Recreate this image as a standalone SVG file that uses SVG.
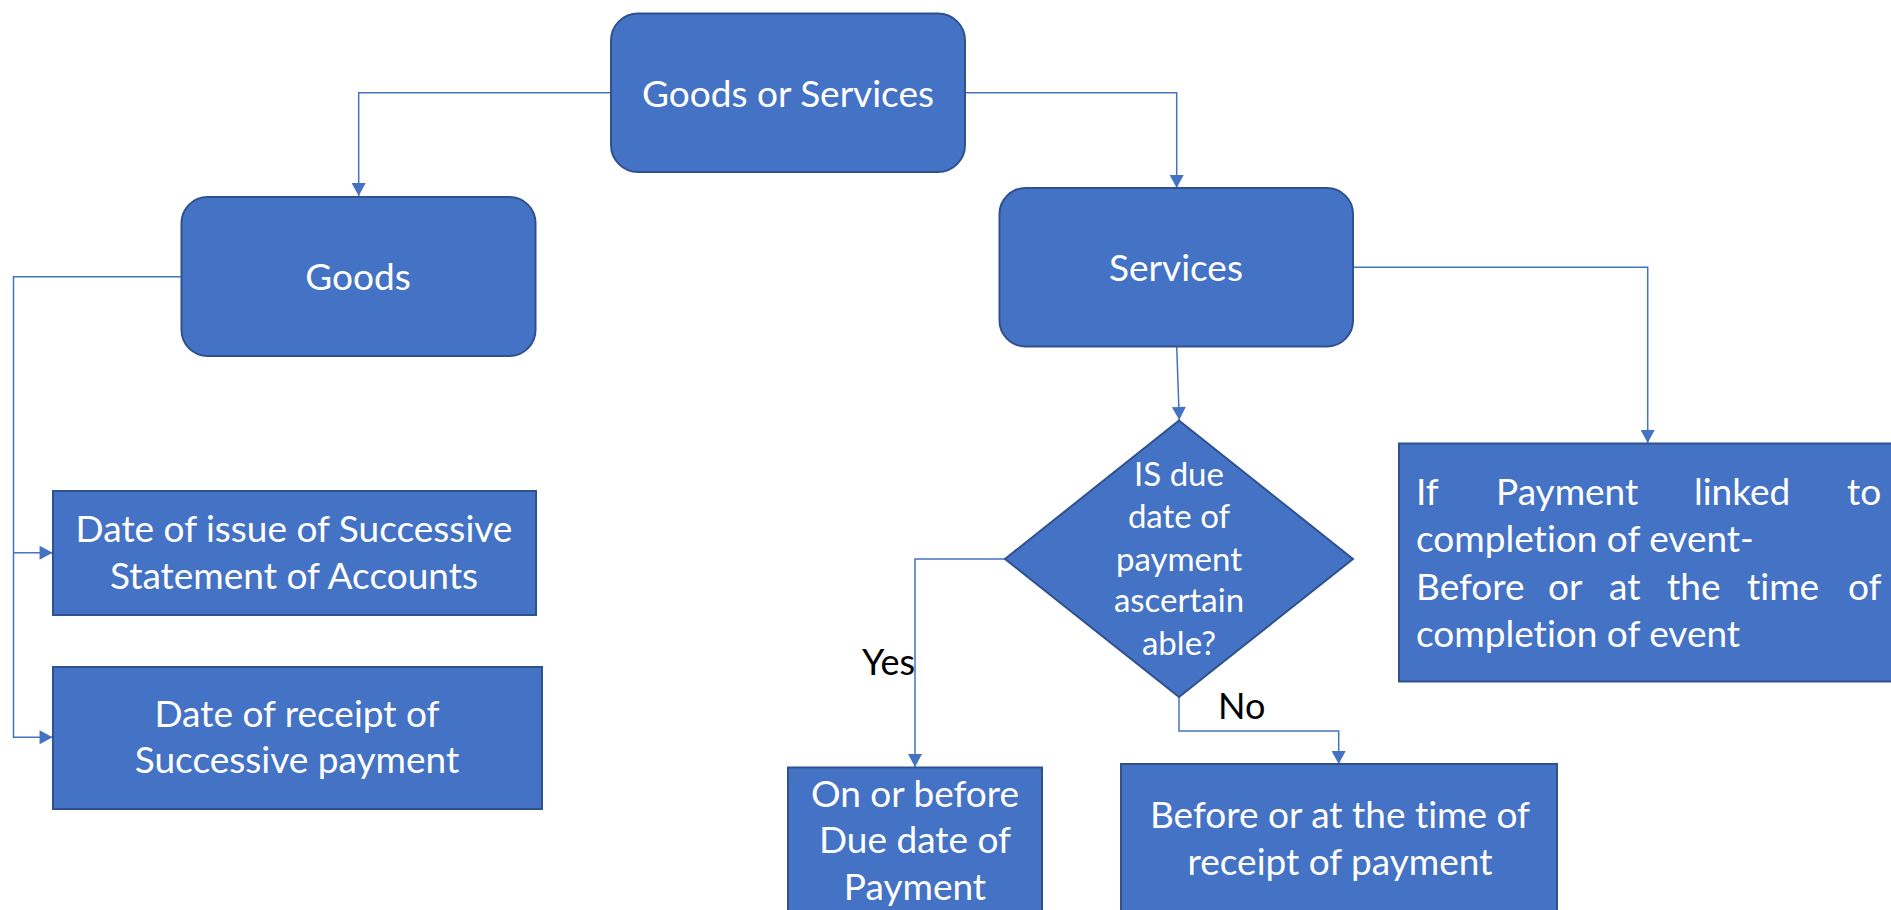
<svg xmlns="http://www.w3.org/2000/svg" width="1891" height="910" viewBox="0 0 1891 910">
  <style>
    .box { fill: #4472C4; stroke: #2F528F; stroke-width: 2; }
    .lbl { font-family: Lato, "Liberation Sans", sans-serif; fill: #FFFFFF; font-size: 37px; font-variant-ligatures: none; }
    .mid { text-anchor: middle; }
    .dia { font-size: 33px; }
    .edge { fill: none; stroke: #4472C4; stroke-width: 1.5; }
    .note { font-family: Lato, "Liberation Sans", sans-serif; fill: #000000; font-size: 36px; font-variant-ligatures: none; }
  </style>
  <defs>
    <marker id="arrow" markerUnits="userSpaceOnUse" markerWidth="14" markerHeight="14" viewBox="0 0 12 13" refX="12" refY="6.5" orient="auto">
      <path d="M0,0 L12,6.5 L0,13 Z" fill="#4472C4"/>
    </marker>
  </defs>
  <rect width="1891" height="910" fill="#FFFFFF"/>

  <g id="connectors">
    <path class="edge" d="M611,92.7 H358.7 V196" marker-end="url(#arrow)"/>
    <path class="edge" d="M965,92.7 H1176.7 V188" marker-end="url(#arrow)"/>
    <path class="edge" d="M181,276.7 H13.5 V737.3 H52.5" marker-end="url(#arrow)"/>
    <path class="edge" d="M13.5,552.7 H52.5" marker-end="url(#arrow)"/>
    <path class="edge" d="M1353,267.3 H1647.7 V443" marker-end="url(#arrow)"/>
    <path class="edge" d="M1176.7,346.7 L1179.3,420" marker-end="url(#arrow)"/>
    <path class="edge" d="M1005,559 H915 V767" marker-end="url(#arrow)"/>
    <path class="edge" d="M1179,697 V731 H1338.7 V764" marker-end="url(#arrow)"/>
  </g>

  <g id="goods-or-services">
    <rect class="box" x="611" y="13.5" width="354" height="158.5" rx="27" ry="27"/>
    <text class="lbl mid" x="788" y="107">Goods or Services</text>
  </g>

  <g id="goods">
    <rect class="box" x="181.5" y="197" width="354" height="159" rx="26" ry="26"/>
    <text class="lbl mid" x="358" y="290">Goods</text>
  </g>

  <g id="services">
    <rect class="box" x="999.5" y="188" width="353.5" height="158.5" rx="26" ry="26"/>
    <text class="lbl mid" x="1176" y="281">Services</text>
  </g>

  <g id="statement-of-accounts">
    <rect class="box" x="53" y="491" width="483" height="124"/>
    <text class="lbl mid" x="294" y="542">Date of issue of Successive</text>
    <text class="lbl mid" x="294" y="589">Statement of Accounts</text>
  </g>

  <g id="receipt-of-payment">
    <rect class="box" x="53" y="667" width="489" height="142"/>
    <text class="lbl mid" x="297" y="727">Date of receipt of</text>
    <text class="lbl mid" x="297" y="773">Successive payment</text>
  </g>

  <g id="due-date-decision">
    <polygon class="box" points="1179,420.5 1353,559 1179,697 1005,559"/>
    <text class="lbl mid dia" x="1179" y="486">IS due</text>
    <text class="lbl mid dia" x="1179" y="528">date of</text>
    <text class="lbl mid dia" x="1179" y="571">payment</text>
    <text class="lbl mid dia" x="1179" y="612">ascertain</text>
    <text class="lbl mid dia" x="1179" y="655">able?</text>
  </g>

  <g id="linked-to-event">
    <rect class="box" x="1399" y="443.5" width="510" height="238"/>
    <text class="lbl" y="505"><tspan x="1416">If</tspan><tspan x="1496">Payment</tspan><tspan x="1694">linked</tspan><tspan x="1847">to</tspan></text>
    <text class="lbl" x="1416" y="552">completion of event-</text>
    <text class="lbl" y="600"><tspan x="1416">Before</tspan><tspan x="1548">or</tspan><tspan x="1609">at</tspan><tspan x="1667">the</tspan><tspan x="1747">time</tspan><tspan x="1848">of</tspan></text>
    <text class="lbl" x="1416" y="647">completion of event</text>
  </g>

  <g id="on-or-before-due-date">
    <rect class="box" x="788" y="767.5" width="254" height="160"/>
    <text class="lbl mid" x="915" y="807">On or before</text>
    <text class="lbl mid" x="915" y="853">Due date of</text>
    <text class="lbl mid" x="915" y="900">Payment</text>
  </g>

  <g id="before-receipt-of-payment">
    <rect class="box" x="1121" y="764" width="436" height="160"/>
    <text class="lbl mid" x="1340" y="828">Before or at the time of</text>
    <text class="lbl mid" x="1340" y="875">receipt of payment</text>
  </g>

  <g id="branch-labels">
    <text class="note" x="862" y="675">Yes</text>
    <text class="note" x="1218" y="719">No</text>
  </g>
</svg>
